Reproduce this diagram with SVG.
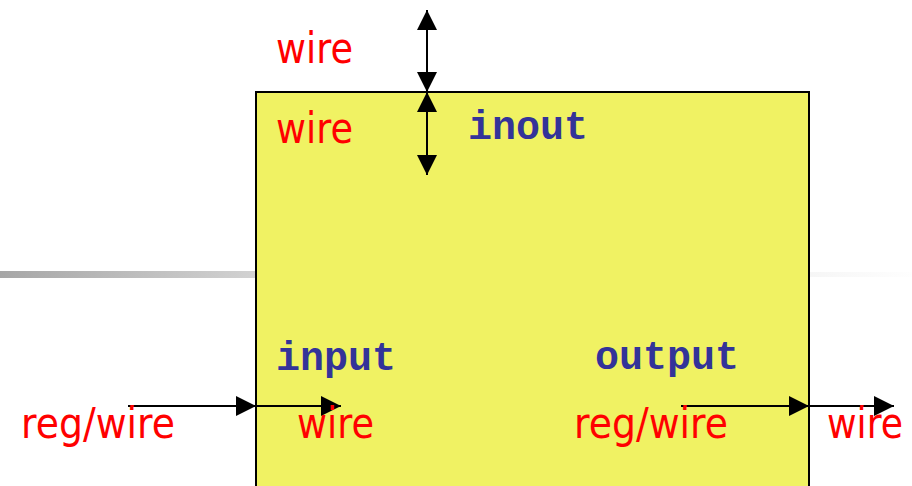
<svg xmlns="http://www.w3.org/2000/svg" width="912" height="486" viewBox="0 0 912 486">
<style>
.lbl{font-family:"DejaVu Sans","Liberation Sans",sans-serif;font-size:42px;fill:#ff0000}
.kw{font-family:"Liberation Mono","Courier New",monospace;font-weight:bold;font-size:40px;fill:#333399}
.c{stroke:#000;stroke-width:2;fill:none}
</style>
<defs>
<linearGradient id="gl" x1="0" x2="1" y1="0" y2="0">
<stop offset="0" stop-color="#a6a6a6"/><stop offset="1" stop-color="#d2d2d2"/>
</linearGradient>
<linearGradient id="gr" x1="0" x2="1" y1="0" y2="0">
<stop offset="0" stop-color="#f6f6f6"/><stop offset="1" stop-color="#fefefe"/>
</linearGradient>
<marker id="ah" viewBox="0 0 20 20" refX="20" refY="10" markerWidth="20" markerHeight="20" markerUnits="userSpaceOnUse" orient="auto-start-reverse">
<path d="M0,0 L20,10 L0,20 Z" fill="#000"/>
</marker>
</defs>
<rect x="0" y="271" width="256" height="7" fill="url(#gl)"/>
<rect x="810" y="272" width="102" height="5" fill="url(#gr)"/>
<g id="module">
<rect x="256" y="92" width="553" height="410" fill="#f0f263" stroke="#000" stroke-width="2"/>
</g>
<g id="connectors">
<line class="c" x1="427" y1="10" x2="427" y2="92" marker-start="url(#ah)" marker-end="url(#ah)"/>
<line class="c" x1="427" y1="92" x2="427" y2="175" marker-start="url(#ah)" marker-end="url(#ah)"/>
<line class="c" x1="128" y1="406" x2="256" y2="406" marker-end="url(#ah)"/>
<line class="c" x1="256" y1="406" x2="341" y2="406" marker-end="url(#ah)"/>
<line class="c" x1="681" y1="406" x2="809" y2="406" marker-end="url(#ah)"/>
<line class="c" x1="809" y1="406" x2="894" y2="406" marker-end="url(#ah)"/>
</g>
<g id="labels">
<text class="lbl" x="276" y="63" textLength="77" lengthAdjust="spacingAndGlyphs">wire</text>
<text class="lbl" x="276" y="143" textLength="77" lengthAdjust="spacingAndGlyphs">wire</text>
<text class="kw" x="468" y="139">inout</text>
<text class="kw" x="276" y="370">input</text>
<text class="kw" x="595" y="369">output</text>
<text class="lbl" x="21" y="438" textLength="154" lengthAdjust="spacingAndGlyphs">reg/wire</text>
<text class="lbl" x="297" y="438" textLength="77" lengthAdjust="spacingAndGlyphs">wire</text>
<text class="lbl" x="574" y="438" textLength="154" lengthAdjust="spacingAndGlyphs">reg/wire</text>
<text class="lbl" x="827" y="438" font-size="40" textLength="76" lengthAdjust="spacingAndGlyphs">wire</text>
</g>
</svg>
